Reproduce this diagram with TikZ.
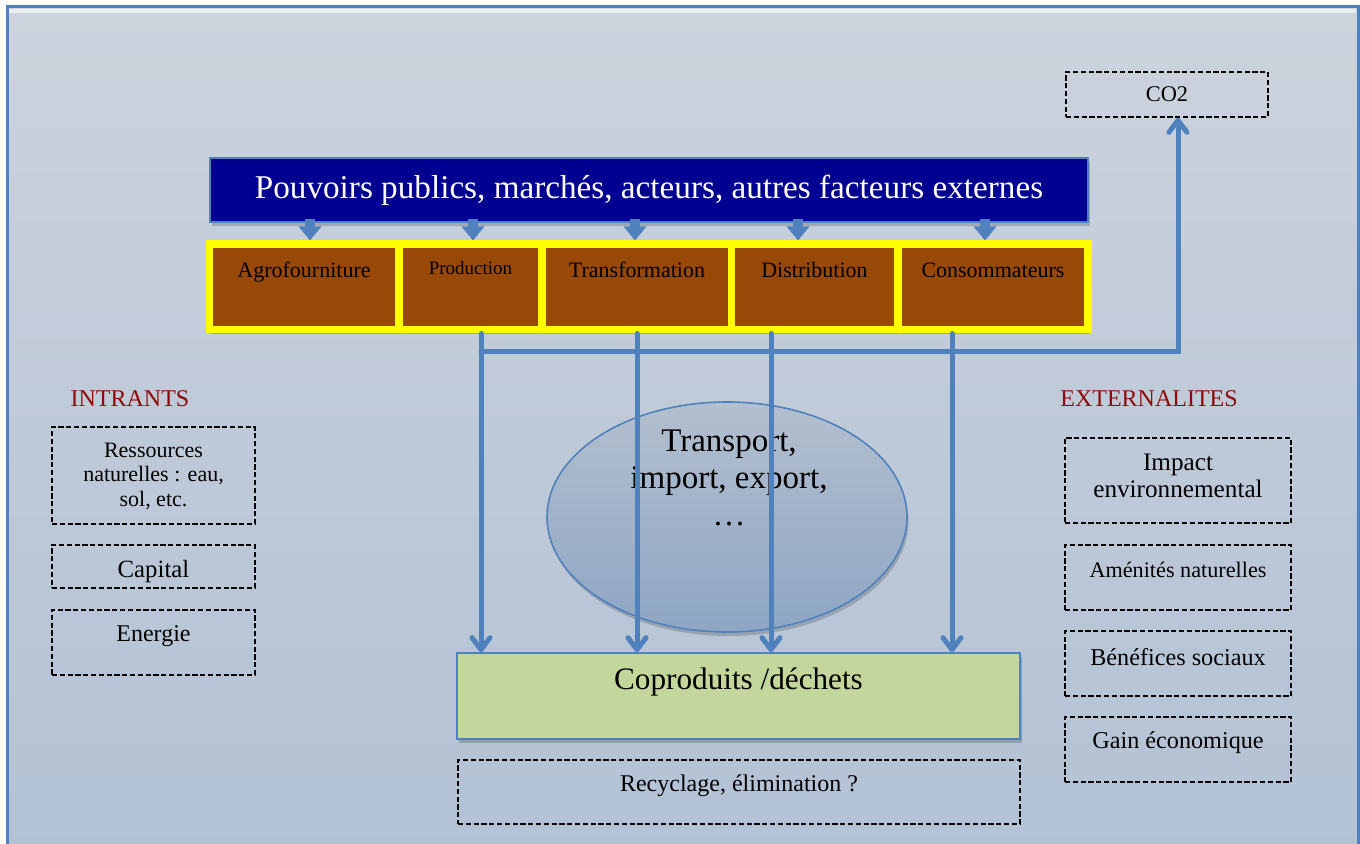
\documentclass[tikz,border=0pt]{standalone}
\usepackage{fontspec}
\setmainfont{Liberation Serif}
\usetikzlibrary{arrows.meta,shapes.geometric,shadows}
\definecolor{frameblue}{HTML}{4F81BD}
\definecolor{bgtop}{HTML}{CCD3DD}
\definecolor{bgbot}{HTML}{B2C1D4}
\definecolor{navy}{RGB}{0,0,145}
\definecolor{brownc}{HTML}{984807}
\definecolor{yel}{HTML}{FFFF00}
\definecolor{greenc}{HTML}{C3D69B}
\definecolor{darkred}{HTML}{8E0A0A}
\definecolor{elltop}{HTML}{B3BFCE}
\definecolor{ellbot}{HTML}{8EA6C4}
\newcommand{\myfs}[2]{\fontsize{#1pt}{#2pt}\selectfont}
\begin{document}
\begin{tikzpicture}[x=0.5pt,y=-0.5pt,
  shad/.style={drop shadow={shadow xshift=0.8pt,shadow yshift=-2pt,opacity=0.18,fill=black}},
  banner/.style={draw=frameblue,line width=1pt,fill=navy,text=white,minimum width=439pt,minimum height=32pt,inner sep=0,shad},
  stage/.style={draw=yel,fill=brownc,line width=3.75pt,minimum height=42.75pt,inner sep=0,shad},
  stagelbl/.style={inner sep=0,anchor=base,font=\myfs{11}{13}},
  dashbox/.style={draw=black,line width=0.8pt,dash pattern=on 2.6pt off 1.3pt,inner sep=0},
  lbl/.style={inner sep=0,align=center},
  flow/.style={draw=frameblue,line width=2.5pt,line cap=round,-{Straight Barb[length=6pt,width=9pt,line cap=round,line join=round]}},
  small/.style={draw=frameblue,line width=5pt,-{Triangle[length=7pt,width=11pt]}},
  head/.style={inner sep=0,text=darkred,font=\myfs{12}{14}}
]
\clip (0,0) rectangle (1360,844);
\useasboundingbox (0,0) rectangle (1360,844);
\fill[white] (0,0) rectangle (1360,844);
% frame
\shade[top color=bgtop,bottom color=bgbot] (7,7) rectangle (1358,860);
\draw[white,opacity=0.6,line width=2pt] (9,11) -- (1356,11);
\draw[frameblue,line width=1.5pt] (7,860) -- (7,7) -- (1358,7) -- (1358,860);

% banner
\node[banner,font=\myfs{16.6}{20}] (pub) at (649,190) {Pouvoirs publics, marchés, acteurs, autres facteurs externes};

% stages
\node[stage,minimum width=94.75pt] (agro) at (304,287) {};
\node[stage,minimum width=71.25pt] (prod) at (470.5,287) {};
\node[stage,minimum width=94.75pt] (trans) at (637,287) {};
\node[stage,minimum width=83.25pt] (dist) at (814.5,287) {};
\node[stage,minimum width=94.75pt] (cons) at (993,287) {};
\node[stagelbl] at (304,278) {Agrofourniture};
\node[stagelbl,font=\myfs{9.5}{11}] at (470.5,275) {Production};
\node[stagelbl] at (637,278) {Transformation};
\node[stagelbl] at (814.5,278) {Distribution};
\node[stagelbl] at (993,278) {Consommateurs};

% small arrows from banner
\coordinate (a1) at (310,0);
\coordinate (a2) at (473,0);
\coordinate (a3) at (635,0);
\coordinate (a4) at (798,0);
\coordinate (a5) at (985,0);
\draw[small] ([yshift=2pt]a1 |- pub.south) -- (a1 |- agro.north);
\draw[small] ([yshift=2pt]a2 |- pub.south) -- (a2 |- prod.north);
\draw[small] ([yshift=2pt]a3 |- pub.south) -- (a3 |- trans.north);
\draw[small] ([yshift=2pt]a4 |- pub.south) -- (a4 |- dist.north);
\draw[small] ([yshift=2pt]a5 |- pub.south) -- (a5 |- cons.north);

% CO2
\node[dashbox,minimum width=101pt,minimum height=22.5pt,font=\myfs{11.2}{13}] (co2) at (1167,94.5) {CO2};

% ellipse
\node[ellipse,draw=frameblue,line width=0.8pt,top color=elltop,bottom color=ellbot,minimum width=180pt,minimum height=115pt,shad] (tr) at (727,517) {};
\node[lbl,font=\myfs{16.5}{18.5}] at (729,478) {Transport,\\import, export,\\…};

% coproduits
\node[draw=frameblue,line width=0.8pt,fill=greenc,minimum width=281.5pt,minimum height=43pt,inner sep=0,shad] (cop) at (738.5,696) {};
\node[lbl,font=\myfs{15.6}{18}] at (738.5,682) {Coproduits /déchets};
\node[dashbox,minimum width=281pt,minimum height=32pt] (rec) at (739,792) {};
\node[lbl,font=\myfs{12}{14}] at (739,786) {Recyclage, élimination ?};

% flows
\coordinate (j1) at (481,352);
\coordinate (j2) at (637,352);
\coordinate (j3) at (771,352);
\coordinate (j4) at (952,352);
\coordinate (jc) at (1178,352);
\draw[flow] (j1) -- (jc) -- (jc |- co2.south);
\draw[flow] (j1 |- prod.south) -- (j1 |- cop.north);
\draw[flow] (j2 |- trans.south) -- (j2 |- cop.north);
\draw[flow] (j3 |- dist.south) -- (j3 |- cop.north);
\draw[flow] (j4 |- cons.south) -- (j4 |- cop.north);

% intrants
\node[head] at (130,399) {INTRANTS};
\node[dashbox,minimum width=101.5pt,minimum height=48.5pt] (res) at (153.5,475.5) {};
\node[lbl,font=\myfs{11}{12.25}] at (153.5,476) {Ressources\\naturelles : eau,\\sol, etc.};
\node[dashbox,minimum width=101.5pt,minimum height=21.5pt] (cap) at (153.5,566.5) {};
\begin{scope}
\clip (52,545) rectangle (255,588);
\node[lbl,font=\myfs{12.4}{14}] at (153.5,572) {Capital};
\end{scope}
\node[dashbox,minimum width=101.5pt,minimum height=32.5pt] (ene) at (153.5,642.5) {};
\node[lbl,font=\myfs{12}{14}] at (153.5,636) {Energie};

% externalites
\node[head] at (1149,399) {EXTERNALITES};
\node[dashbox,minimum width=113pt,minimum height=42.5pt] (imp) at (1178,480.5) {};
\node[lbl,font=\myfs{12.6}{13.5}] at (1178,476) {Impact\\environnemental};
\node[dashbox,minimum width=113pt,minimum height=32.5pt] (ame) at (1178,577.5) {};
\node[lbl,font=\myfs{11.1}{13}] at (1178,570) {Aménités naturelles};
\node[dashbox,minimum width=113pt,minimum height=32.5pt] (ben) at (1178,663.5) {};
\node[lbl,font=\myfs{12.1}{14}] at (1178,657) {Bénéfices sociaux};
\node[dashbox,minimum width=113pt,minimum height=32.5pt] (gain) at (1178,749.5) {};
\node[lbl,font=\myfs{12.1}{14}] at (1178,743) {Gain économique};
\end{tikzpicture}
\end{document}
